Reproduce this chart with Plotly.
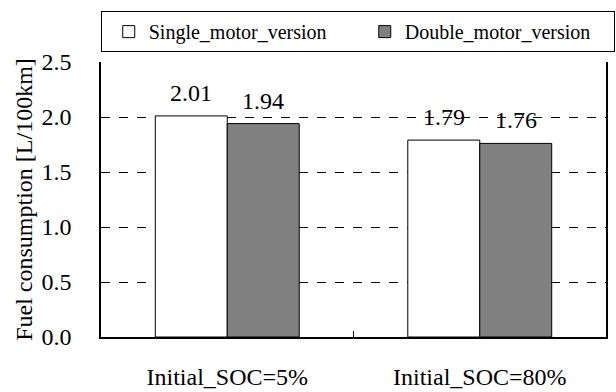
import plotly.graph_objects as go

categories = ["Initial_SOC=5%", "Initial_SOC=80%"]
single_motor = [2.01, 1.79]
double_motor = [1.94, 1.76]
series_names = ["Single_motor_version", "Double_motor_version"]
y_ticks = [0.0, 0.5, 1.0, 1.5, 2.0, 2.5]

FONT = "Liberation Serif"

fig = go.Figure()
fig.add_trace(go.Bar(x=categories, y=single_motor, name=series_names[0],
                     marker=dict(color="white", line=dict(color="black", width=1))))
fig.add_trace(go.Bar(x=categories, y=double_motor, name=series_names[1],
                     marker=dict(color="#808080", line=dict(color="black", width=1))))

for vals, shift in ((single_motor, -36), (double_motor, 36)):
    for c, v in zip(categories, vals):
        fig.add_annotation(x=c, y=v, xref="x", yref="y", text=f"{v:.2f}",
                           showarrow=False, xshift=shift, yanchor="bottom", yshift=8,
                           font=dict(family=FONT, size=24, color="black"))

fig.update_layout(
    width=616, height=392,
    margin=dict(l=101, r=10, t=62, b=55, autoexpand=False),
    paper_bgcolor="white", plot_bgcolor="white",
    barmode="group", bargap=0.43, bargroupgap=0,
    font=dict(family=FONT, color="black"),
    showlegend=True,
    legend=dict(orientation="h", x=-0.0005, xanchor="left", y=1.185, yanchor="top",
                bordercolor="black", borderwidth=1, bgcolor="white",
                font=dict(family=FONT, size=20, color="black"),
                indentation=7,
                entrywidth=204, entrywidthmode="pixels", traceorder="normal"),
    xaxis=dict(showline=True, linecolor="black", linewidth=1.5, automargin=False,
               ticks="inside", ticklen=6, tickcolor="black", tickson="boundaries",
               tickfont=dict(family=FONT, size=24, color="black"),
               ticklabelstandoff=17, showgrid=False),
    yaxis=dict(range=[0, 2.5], tickvals=y_ticks, tickformat=".1f", automargin=False,
               showline=True, mirror=True, linecolor="black", linewidth=1.5,
               ticks="", showgrid=True, gridcolor="black", gridwidth=1, griddash="dash",
               zeroline=False,
               tickfont=dict(family=FONT, size=24, color="black"),
               ticklabelstandoff=23,
               title=dict(text="Fuel consumption [L/100km]", standoff=2,
                          font=dict(family=FONT, size=24, color="black"))),
)

fig.write_html("out.html")
